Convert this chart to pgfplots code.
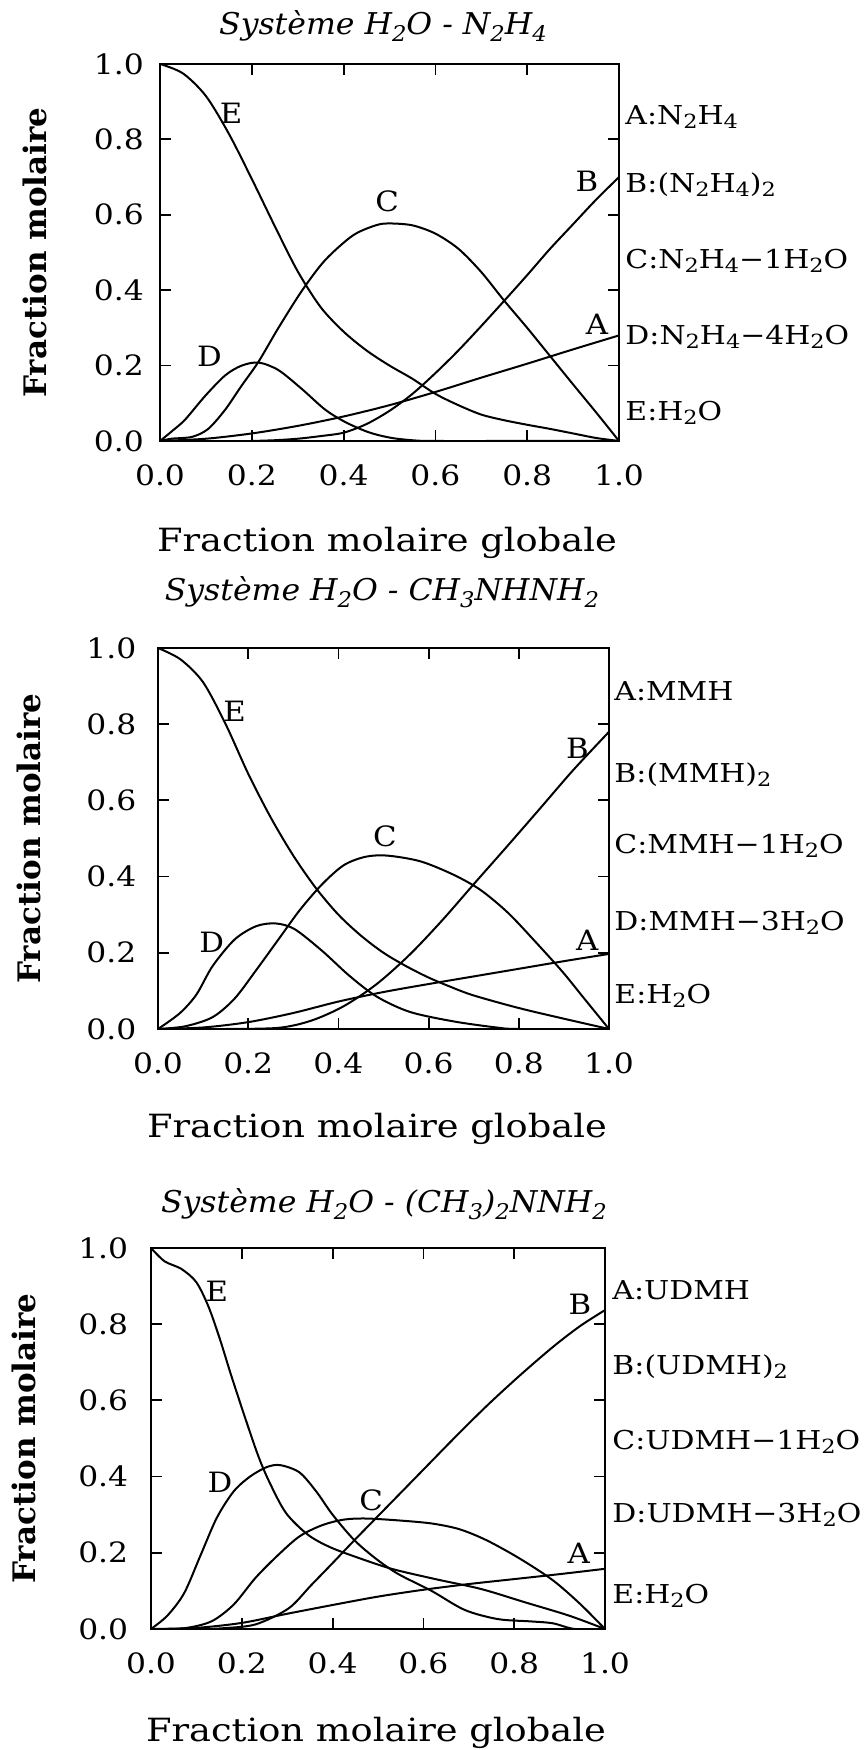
\documentclass[border=0pt]{standalone}
\usepackage{pgfplots}
\pgfplotsset{compat=1.18}
\usepackage{fontspec}
\setmainfont{DejaVu Serif}
\newcommand{\su}[1]{\raisebox{-0.3ex}{\scalebox{0.75}{#1}}}
\newcommand{\tsu}[1]{\raisebox{-0.45ex}{\scalebox{0.72}{#1}}}
\newcommand{\tickf}{\fontsize{14}{14}\selectfont}
\newcommand{\labf}{\fontsize{13}{13}\selectfont}
\newcommand{\curf}{\fontsize{14}{14}\selectfont}
\pgfplotsset{
  myax/.style={
    scale only axis, anchor=south west,
    xmin=0,xmax=1,ymin=0,ymax=1,
    xtick={0,0.2,0.4,0.6,0.8,1}, ytick={0,0.2,0.4,0.6,0.8,1},
    xticklabels={0.0,0.2,0.4,0.6,0.8,1.0}, yticklabels={0.0,0.2,0.4,0.6,0.8,1.0},
    tick align=inside, major tick length=5.5pt, tick pos=both,
    major tick style={black, line width=0.9pt},
    axis line style={line width=1.4pt},
    xticklabel style={font=\tickf, anchor=base, yshift=-22.5pt, inner sep=0pt, xscale=1.12},
    yticklabel style={font=\tickf, anchor=east, inner sep=0pt, xscale=1.12},
    clip mode=individual,
    every axis plot post/.append style={smooth, black, line width=1pt, mark=none},
  },
}
\tikzset{rl/.style={font=\labf, anchor=base west, inner sep=0pt, xscale=1.15},
  cl/.style={font=\curf, xscale=1.1, inner sep=0pt}}
\begin{document}
\begin{tikzpicture}
\useasboundingbox (0,0) rectangle (431.5pt,875pt);
% ---------------- Panel 1 ----------------
\begin{axis}[myax, at={(80pt,654.5pt)}, width=229.5pt, height=188.5pt, yticklabel style={xshift=-7pt}]
\addplot coordinates {(0,0) (0.1,0.006) (0.2,0.02) (0.3,0.04) (0.4,0.065) (0.5,0.095) (0.6,0.13) (0.7,0.168) (0.8,0.205) (0.9,0.243) (1.0,0.28)};
\addplot coordinates {(0.2,0) (0.25,0.002) (0.3,0.006) (0.35,0.013) (0.4,0.022) (0.45,0.045) (0.5,0.08) (0.55,0.125) (0.6,0.18) (0.65,0.24) (0.7,0.305) (0.75,0.372) (0.8,0.44) (0.85,0.51) (0.9,0.575) (0.95,0.64) (1.0,0.70)};
\addplot coordinates {(0,0) (0.025,0.006) (0.07,0.011) (0.105,0.032) (0.142,0.083) (0.178,0.147) (0.215,0.211) (0.258,0.30) (0.31,0.40) (0.36,0.48) (0.42,0.545) (0.47,0.572) (0.5,0.577) (0.55,0.572) (0.6,0.55) (0.65,0.51) (0.7,0.448) (0.75,0.372) (0.8,0.30) (0.85,0.225) (0.9,0.15) (0.95,0.076) (1,0)};
\addplot coordinates {(0,0) (0.03,0.03) (0.055,0.057) (0.098,0.119) (0.142,0.174) (0.178,0.2) (0.215,0.208) (0.258,0.188) (0.309,0.138) (0.36,0.083) (0.404,0.05) (0.455,0.023) (0.505,0.008) (0.56,0.001) (0.6,0) (0.8,0) (1,0)};
\addplot coordinates {(0,1.0) (0.05,0.975) (0.1,0.915) (0.15,0.815) (0.2,0.695) (0.25,0.57) (0.3,0.45) (0.35,0.355) (0.4,0.29) (0.45,0.24) (0.5,0.20) (0.55,0.165) (0.6,0.125) (0.65,0.095) (0.7,0.07) (0.75,0.055) (0.8,0.043) (0.85,0.032) (0.9,0.02) (0.95,0.008) (1,0)};
\node[cl] at (axis cs:0.155,0.87) {E};
\node[cl] at (axis cs:0.495,0.635) {C};
\node[cl] at (axis cs:0.93,0.69) {B};
\node[cl] at (axis cs:0.108,0.225) {D};
\node[cl] at (axis cs:0.952,0.31) {A};
\end{axis}
% ---------------- Panel 2 ----------------
\begin{axis}[myax, at={(79pt,360.5pt)}, width=225.5pt, height=190.5pt, yticklabel style={xshift=-9.5pt}]
\addplot coordinates {(0,0) (0.1,0.004) (0.2,0.018) (0.3,0.042) (0.4,0.072) (0.5,0.097) (0.6,0.118) (0.7,0.138) (0.8,0.158) (0.9,0.178) (1,0.197)};
\addplot coordinates {(0.15,0) (0.267,0.003) (0.34,0.022) (0.412,0.06) (0.485,0.118) (0.558,0.195) (0.63,0.285) (0.703,0.384) (0.776,0.482) (0.848,0.58) (0.921,0.68) (1,0.78)};
\addplot coordinates {(0,0) (0.06,0.007) (0.121,0.031) (0.17,0.08) (0.218,0.155) (0.267,0.235) (0.315,0.313) (0.364,0.38) (0.412,0.43) (0.46,0.452) (0.509,0.455) (0.582,0.44) (0.655,0.405) (0.715,0.365) (0.776,0.305) (0.836,0.23) (0.897,0.15) (0.945,0.08) (1,0)};
\addplot coordinates {(0,0) (0.048,0.041) (0.085,0.09) (0.121,0.165) (0.17,0.235) (0.218,0.27) (0.261,0.277) (0.303,0.262) (0.364,0.205) (0.424,0.14) (0.485,0.085) (0.558,0.045) (0.655,0.02) (0.75,0.004) (0.8,0) (1,0)};
\addplot coordinates {(0,1.0) (0.05,0.97) (0.1,0.91) (0.15,0.80) (0.2,0.67) (0.25,0.555) (0.3,0.455) (0.35,0.37) (0.4,0.30) (0.45,0.245) (0.5,0.20) (0.55,0.165) (0.6,0.135) (0.65,0.11) (0.7,0.088) (0.8,0.055) (0.9,0.027) (1,0)};
\node[cl] at (axis cs:0.17,0.835) {E};
\node[cl] at (axis cs:0.503,0.507) {C};
\node[cl] at (axis cs:0.93,0.737) {B};
\node[cl] at (axis cs:0.119,0.227) {D};
\node[cl] at (axis cs:0.952,0.232) {A};
\end{axis}
% ---------------- Panel 3 ----------------
\begin{axis}[myax, at={(75.5pt,60.5pt)}, width=227pt, height=190.5pt, yticklabel style={xshift=-10pt}]
\addplot coordinates {(0,0) (0.1,0.003) (0.2,0.016) (0.3,0.04) (0.4,0.063) (0.5,0.085) (0.6,0.103) (0.7,0.118) (0.8,0.131) (0.9,0.144) (1,0.158)};
\addplot coordinates {(0.12,0) (0.158,0.002) (0.23,0.012) (0.303,0.054) (0.352,0.114) (0.4,0.173) (0.448,0.233) (0.521,0.322) (0.594,0.411) (0.667,0.5) (0.739,0.585) (0.812,0.665) (0.885,0.74) (0.945,0.795) (1,0.837)};
\addplot coordinates {(0,0) (0.073,0.002) (0.133,0.02) (0.182,0.064) (0.23,0.134) (0.279,0.193) (0.327,0.243) (0.376,0.272) (0.424,0.287) (0.473,0.29) (0.545,0.285) (0.618,0.277) (0.679,0.262) (0.739,0.233) (0.812,0.185) (0.885,0.128) (0.945,0.066) (1,0)};
\addplot coordinates {(0,0) (0.036,0.035) (0.073,0.094) (0.109,0.193) (0.145,0.292) (0.182,0.361) (0.218,0.40) (0.255,0.425) (0.285,0.43) (0.327,0.411) (0.364,0.361) (0.40,0.30) (0.448,0.233) (0.497,0.183) (0.545,0.144) (0.618,0.10) (0.691,0.05) (0.764,0.026) (0.836,0.02) (0.885,0.015) (0.933,0.0) (1,0)};
\addplot coordinates {(0,1.0) (0.03,0.965) (0.067,0.945) (0.1,0.91) (0.127,0.845) (0.152,0.76) (0.176,0.668) (0.206,0.559) (0.236,0.455) (0.261,0.385) (0.297,0.305) (0.345,0.248) (0.394,0.215) (0.461,0.185) (0.533,0.157) (0.63,0.13) (0.727,0.105) (0.824,0.07) (0.921,0.035) (1,0)};
\node[cl] at (axis cs:0.145,0.886) {E};
\node[cl] at (axis cs:0.485,0.337) {C};
\node[cl] at (axis cs:0.945,0.851) {B};
\node[cl] at (axis cs:0.152,0.386) {D};
\node[cl] at (axis cs:0.942,0.198) {A};
\end{axis}
% ---------------- Titles ----------------
\node[anchor=base, inner sep=0pt, font=\fontsize{15}{15}\selectfont\itshape, xscale=1.05] at (191.5pt,857.5pt) {Système H\tsu{2}O - N\tsu{2}H\tsu{4}};
\node[anchor=base, inner sep=0pt, font=\fontsize{15}{15}\selectfont\itshape, xscale=1.05] at (191pt,574.5pt) {Système H\tsu{2}O - CH\tsu{3}NHNH\tsu{2}};
\node[anchor=base, inner sep=0pt, font=\fontsize{15}{15}\selectfont\itshape, xscale=1.05] at (192pt,268.5pt) {Système H\tsu{2}O - (CH\tsu{3})\tsu{2}NNH\tsu{2}};
% x titles
\node[anchor=base, inner sep=0pt, font=\fontsize{16}{16}\selectfont, xscale=1.15] at (193.5pt,599pt) {Fraction molaire globale};
\node[anchor=base, inner sep=0pt, font=\fontsize{16}{16}\selectfont, xscale=1.15] at (188.5pt,306pt) {Fraction molaire globale};
\node[anchor=base, inner sep=0pt, font=\fontsize{16}{16}\selectfont, xscale=1.15] at (188pt,4.5pt) {Fraction molaire globale};
% y titles
\node[rotate=90, inner sep=0pt, font=\fontsize{15.5}{15.5}\selectfont\bfseries] at (17.5pt,748.75pt) {Fraction molaire};
\node[rotate=90, inner sep=0pt, font=\fontsize{15.5}{15.5}\selectfont\bfseries] at (14.5pt,455.75pt) {Fraction molaire};
\node[rotate=90, inner sep=0pt, font=\fontsize{15.5}{15.5}\selectfont\bfseries] at (12pt,155.75pt) {Fraction molaire};
% right labels panel 1
\node[rl] at (312.5pt,812.75pt) {A:N\su{2}H\su{4}};
\node[rl] at (312.5pt,778.75pt) {B:(N\su{2}H\su{4})\su{2}};
\node[rl] at (312.5pt,740.75pt) {C:N\su{2}H\su{4}−1H\su{2}O};
\node[rl] at (312.5pt,702.75pt) {D:N\su{2}H\su{4}−4H\su{2}O};
\node[rl] at (312.5pt,664.75pt) {E:H\su{2}O};
% right labels panel 2
\node[rl] at (307pt,524.75pt) {A:MMH};
\node[rl] at (307pt,483.75pt) {B:(MMH)\su{2}};
\node[rl] at (307pt,448.25pt) {C:MMH−1H\su{2}O};
\node[rl] at (307pt,409.75pt) {D:MMH−3H\su{2}O};
\node[rl] at (307pt,373.25pt) {E:H\su{2}O};
% right labels panel 3
\node[rl] at (306pt,225.25pt) {A:UDMH};
\node[rl] at (306pt,187.75pt) {B:(UDMH)\su{2}};
\node[rl] at (306pt,150.25pt) {C:UDMH−1H\su{2}O};
\node[rl] at (306pt,113.75pt) {D:UDMH−3H\su{2}O};
\node[rl] at (306pt,73.25pt) {E:H\su{2}O};
\end{tikzpicture}
\end{document}
